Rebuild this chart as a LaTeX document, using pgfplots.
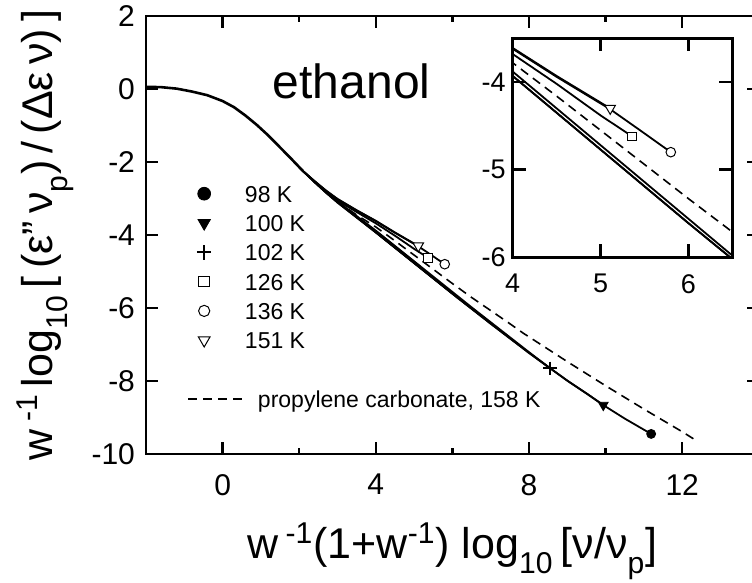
\documentclass[border=0pt]{standalone}
\usepackage{fontspec}
\setmainfont{Liberation Sans}
\usepackage{pgfplots}
\usepackage{pgfplotstable}
\pgfplotsset{compat=1.18}

\newcommand{\sub}[1]{\raisebox{-0.2em}{\textsubscript{#1}}}

% master curve, common to all temperatures
\pgfplotstableread{
x y
-2.0 0.06
-1.6 0.05
-1.2 0.01
-0.8 -0.07
-0.4 -0.17
0.0 -0.33
0.3 -0.50
0.6 -0.73
0.9 -0.99
1.2 -1.28
1.5 -1.60
1.8 -1.92
2.1 -2.25
}\tabC

% 98 K
\pgfplotstableread{
x y
2.1 -2.25
2.4 -2.55
2.7 -2.84
3.0 -3.11
3.5 -3.52
4.0 -3.93
4.5 -4.35
5.0 -4.77
5.5 -5.19
6.0 -5.61
6.5 -6.02
7.0 -6.43
7.5 -6.83
8.0 -7.23
8.55 -7.65
9.0 -7.99
9.5 -8.34
9.94 -8.66
10.5 -9.03
11.19 -9.45
}\tabA

% 100 K
\pgfplotstableread{
x y
2.1 -2.25
2.4 -2.55
2.7 -2.84
3.0 -3.11
3.5 -3.52
4.0 -3.93
4.5 -4.35
5.0 -4.77
5.5 -5.19
6.0 -5.61
6.5 -6.02
7.0 -6.43
7.5 -6.83
8.0 -7.23
8.55 -7.65
9.0 -7.99
9.5 -8.34
9.94 -8.66
}\tabB

% 102 K
\pgfplotstableread{
x y
2.1 -2.25
2.4 -2.55
2.7 -2.83
3.0 -3.08
3.5 -3.48
4.0 -3.88
4.5 -4.30
5.0 -4.72
5.5 -5.14
6.0 -5.56
6.5 -5.98
7.0 -6.39
7.5 -6.80
8.0 -7.21
8.55 -7.65
}\tabD

% 126 K
\pgfplotstableread{
x y
2.1 -2.25
2.4 -2.53
2.7 -2.81
3.0 -3.06
3.5 -3.37
4.0 -3.68
4.5 -4.02
5.0 -4.38
5.36 -4.62
}\tabE

% 136 K
\pgfplotstableread{
x y
2.1 -2.25
2.4 -2.53
2.7 -2.79
3.0 -3.02
3.5 -3.33
4.0 -3.62
4.5 -3.94
5.11 -4.31
5.45 -4.55
5.8 -4.80
}\tabF

% 151 K
\pgfplotstableread{
x y
2.1 -2.25
2.4 -2.52
2.7 -2.78
3.0 -3.01
3.5 -3.32
4.0 -3.61
4.5 -3.93
5.11 -4.30
}\tabG

% propylene carbonate, 158 K
\pgfplotstableread{
x y
2.1 -2.25
2.4 -2.55
2.7 -2.83
3.0 -3.09
3.5 -3.45
4.0 -3.78
4.5 -4.16
5.0 -4.55
5.5 -4.94
6.0 -5.33
6.5 -5.71
7.0 -6.07
7.5 -6.43
7.85 -6.69
8.5 -7.13
9.0 -7.47
9.5 -7.80
10.0 -8.13
10.5 -8.45
11.0 -8.77
11.5 -9.08
12.0 -9.39
12.38 -9.64
}\tabPC

\pgfplotsset{
  curve/.style={black, line width=0.9pt, no markers},
  pcdash/.style={black, line width=0.8pt, dash pattern=on 4.5pt off 3pt, no markers},
  mA/.style={black, mark=*, mark size=2.25pt, mark options={solid, fill=black}},
  mB/.style={black, mark=triangle*, mark size=2.8pt, mark options={solid, rotate=180, fill=black}},
  mC/.style={black, mark=+, mark size=3.3pt, mark options={solid, line width=1pt}},
  mD/.style={black, mark=square*, mark size=2.2pt, mark options={solid, fill=white, line width=0.5pt}},
  mE/.style={black, mark=*, mark size=2.4pt, mark options={solid, fill=white, line width=0.5pt}},
  mF/.style={black, mark=triangle*, mark size=3pt, mark options={solid, rotate=180, fill=white, line width=0.5pt}},
  mleg/.style={legend image code/.code={\path (0pt,0pt) (28pt,0pt); \draw[##1] plot coordinates {(8pt,0pt)};}},
  dleg/.style={legend image code/.code={\draw[##1] (0pt,0pt) -- (28pt,0pt);}},
}

\begin{document}
\begin{tikzpicture}
\path[use as bounding box] (-73pt,-64.5pt) rectangle (303pt,227pt);
\clip (-73pt,-64.5pt) rectangle (303pt,227pt);

\begin{axis}[
  scale only axis,
  width=306.4pt, height=219pt,
  xmin=-2, xmax=14, ymin=-10, ymax=2,
  xtick={0,4,8,12}, minor xtick={2,6,10},
  ytick={-10,-8,-6,-4,-2,0,2},
  xticklabels={0,4,8,12},
  yticklabels={-10,-8,-6,-4,-2,0,2},
  tick align=inside,
  major tick length=6pt, minor tick length=3pt,
  axis line style={line width=1.35pt},
  every tick/.style={black, line width=1.2pt},
  tick label style={font=\fontsize{15}{18}\selectfont},
  xticklabel style={yshift=-6.5pt},
  yticklabel style={xshift=-2pt},
  every axis x label/.style={at={(axis description cs:0.5,-0.222)}, anchor=center},
  every axis y label/.style={at={(axis description cs:-0.1648,0.5)}, anchor=center, rotate=90},
  label style={font=\fontsize{21.5}{24}\selectfont},
  xlabel={w\,\textsuperscript{-1}(1+w\textsuperscript{-1}) log\sub{10}\,[ν/ν\sub{p}]},
  ylabel={w\,\textsuperscript{-1}\,log\sub{10}\,[\,(ε"\,ν\sub{p})\,/\,(Δε\,ν)\,]},
  legend cell align=left,
  legend style={at={(axis description cs:0.0669,0.6146)}, anchor=north west,
    draw=none, fill=none, inner sep=0pt, row sep=6.15pt, column sep=0pt,
    font=\fontsize{11.5}{13}\selectfont,
    nodes={inner sep=0pt, text height=8.5pt, text depth=0pt}},
]
\addplot[curve, line width=1.3pt, forget plot] table {\tabC};
\addplot[pcdash, forget plot] table {\tabPC};
\addplot[curve, forget plot] table {\tabA};
\addplot[curve, forget plot] table {\tabB};
\addplot[curve, forget plot] table {\tabD};
\addplot[curve, forget plot] table {\tabE};
\addplot[curve, forget plot] table {\tabF};
\addplot[curve, forget plot] table {\tabG};

\addplot[only marks, mA, forget plot] coordinates {(11.19,-9.45)};
\addplot[only marks, mB, forget plot] coordinates {(9.94,-8.66)};
\addplot[only marks, mC, forget plot] coordinates {(8.55,-7.65)};
\addplot[only marks, mD, forget plot] coordinates {(5.36,-4.62)};
\addplot[only marks, mE, forget plot] coordinates {(5.8,-4.80)};
\addplot[only marks, mF, forget plot] coordinates {(5.11,-4.30)};

\addlegendimage{mleg, only marks, mA, mark size=3.2pt}
\addlegendentry{98 K}
\addlegendimage{mleg, only marks, mB, mark size=3.6pt}
\addlegendentry{100 K}
\addlegendimage{mleg, only marks, mC, mark size=3.6pt}
\addlegendentry{102 K}
\addlegendimage{mleg, only marks, mD, mark size=2.6pt}
\addlegendentry{126 K}
\addlegendimage{mleg, only marks, mE, mark size=2.8pt}
\addlegendentry{136 K}
\addlegendimage{mleg, only marks, mF, mark size=3.4pt}
\addlegendentry{151 K}
\addlegendimage{empty legend}
\addlegendentry{}
\addlegendimage{dleg, pcdash}
\addlegendentry{\hspace{6.5pt}propylene carbonate, 158 K}

\node[font=\fontsize{24}{28}\selectfont, anchor=base] at (axis cs:3.37,-0.25) {ethanol};
\end{axis}

\begin{axis}[
  at={(183.35pt,98.35pt)}, anchor=south west,
  scale only axis,
  width=109.8pt, height=109.5pt,
  xmin=4, xmax=6.5, ymin=-6, ymax=-3.5,
  xtick={4,5,6}, ytick={-6,-5,-4},
  xticklabels={4,5,6}, yticklabels={-6,-5,-4},
  tick align=inside,
  major tick length=6.5pt,
  axis line style={line width=1.35pt},
  every tick/.style={black, line width=1.2pt},
  tick label style={font=\fontsize{13.5}{16}\selectfont},
  xticklabel style={yshift=-5pt},
  axis background/.style={fill=white},
]
\addplot[pcdash] table {\tabPC};
\addplot[curve] table {\tabA};
\addplot[curve] table {\tabB};
\addplot[curve] table {\tabD};
\addplot[curve] table {\tabE};
\addplot[curve] table {\tabF};
\addplot[curve] table {\tabG};
\addplot[only marks, mD] coordinates {(5.36,-4.62)};
\addplot[only marks, mE] coordinates {(5.8,-4.80)};
\addplot[only marks, mF] coordinates {(5.11,-4.30)};
\end{axis}
\end{tikzpicture}
\end{document}
